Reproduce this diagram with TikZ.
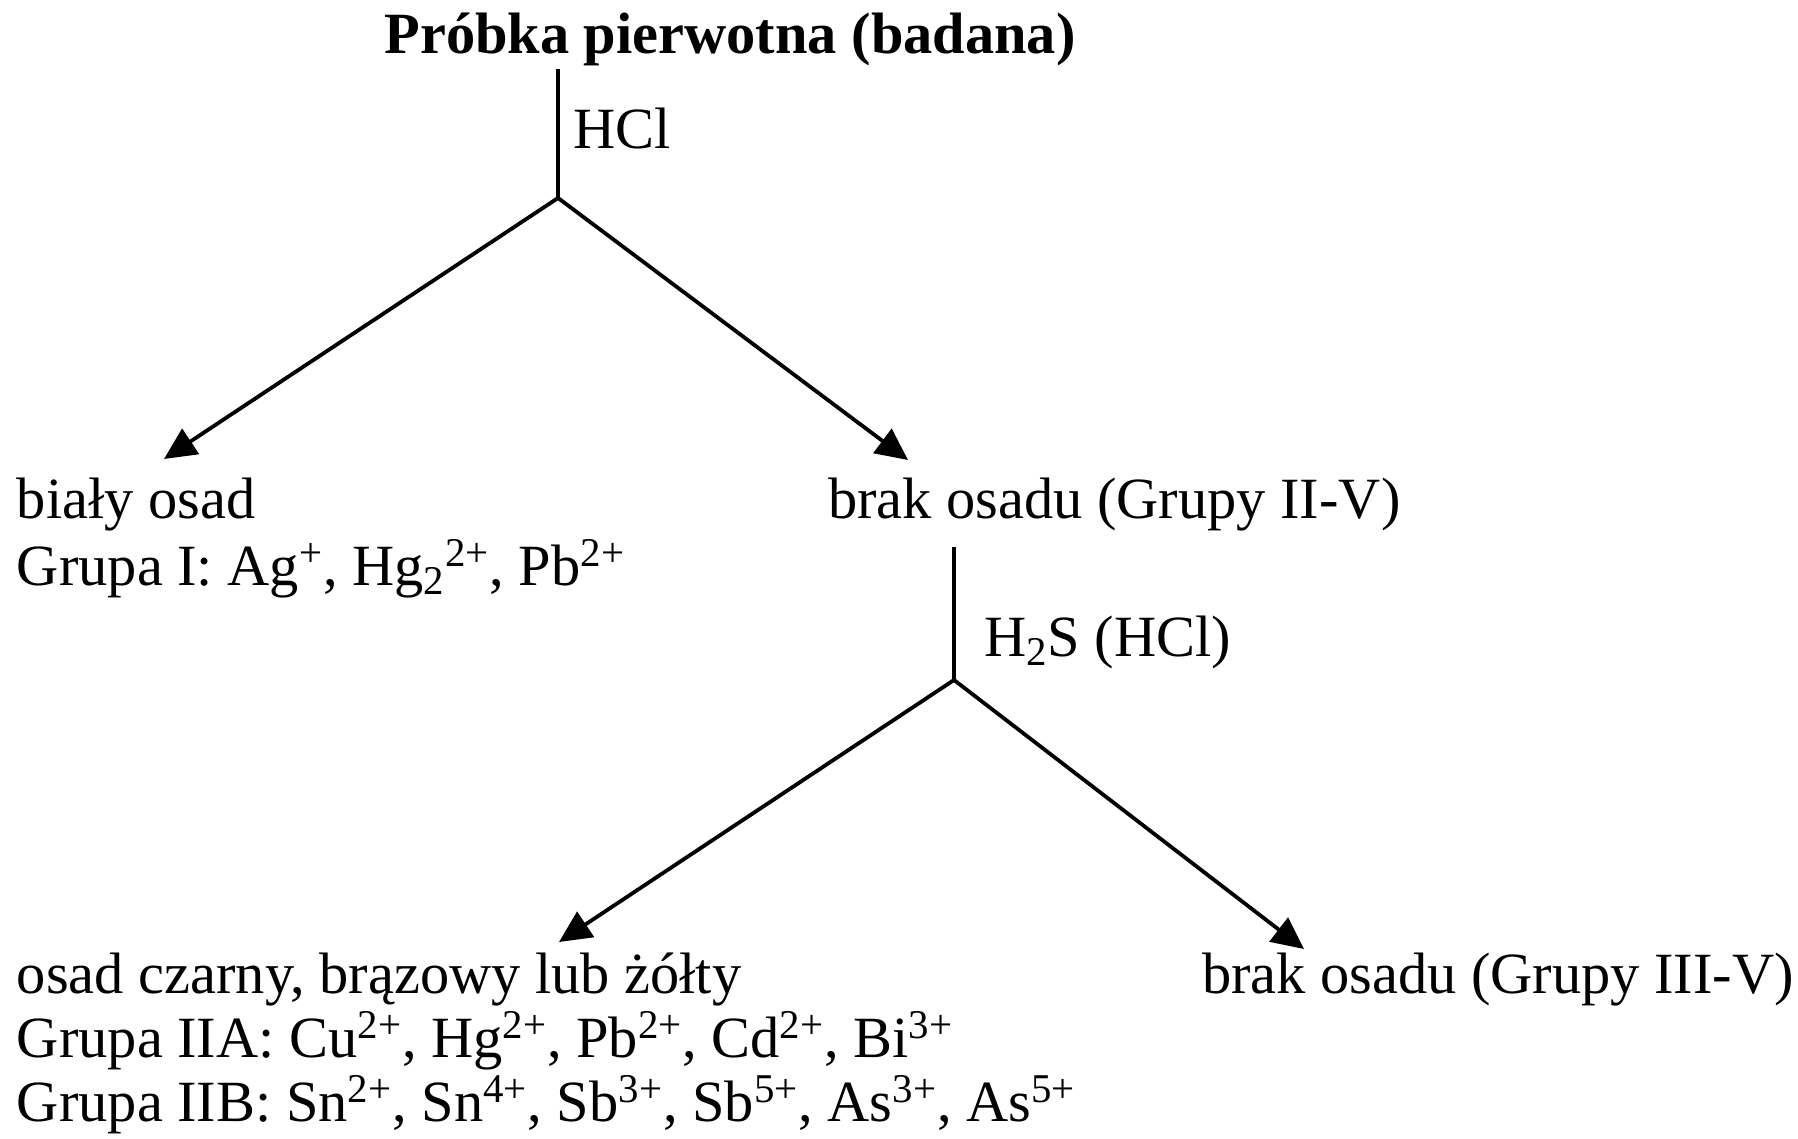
\documentclass[tikz,border=0pt]{standalone}
\usepackage{fontspec}
\setmainfont{Liberation Serif}
\usetikzlibrary{arrows.meta}
\tikzset{
  txt/.style={inner sep=0pt, outer sep=0pt, anchor=base west, font=\fontsize{29.2}{32}\selectfont},
  ttl/.style={inner sep=0pt, outer sep=0pt, anchor=base, font=\fontsize{29.2}{32}\selectfont\bfseries},
  stem/.style={line width=1.6pt},
  branch/.style={line width=1.9pt, -{Triangle[length=16pt,width=15pt]}}
}
\begin{document}
\begin{tikzpicture}[x=0.5pt,y=-0.5pt]
\useasboundingbox (0,0) rectangle (1798,1139);
% texts
\node[ttl] (title) at (730,54) {Próbka pierwotna (badana)};
\node[txt] (hcl) at (573,149) {HCl};
\node[txt] (bialy) at (17,518) {biały osad};
\node[txt] (g1) at (17,585) {Grupa I: Ag\textsuperscript{+}, Hg\textsubscript{2}\textsuperscript{2+}, Pb\textsuperscript{2+}};
\node[txt] (brak2) at (828,518) {brak osadu (Grupy II-V)};
\node[txt] (h2s) at (984,656) {H\textsubscript{2}S (HCl)};
\node[txt] (czarny) at (17,993) {osad czarny, brązowy lub żółty};
\node[txt] (g2a) at (17,1057) {Grupa IIA: Cu\textsuperscript{2+}, Hg\textsuperscript{2+}, Pb\textsuperscript{2+}, Cd\textsuperscript{2+}, Bi\textsuperscript{3+}};
\node[txt] (g2b) at (17,1121) {Grupa IIB: Sn\textsuperscript{2+}, Sn\textsuperscript{4+}, Sb\textsuperscript{3+}, Sb\textsuperscript{5+}, As\textsuperscript{3+}, As\textsuperscript{5+}};
\node[txt] (brak3) at (1202,993) {brak osadu (Grupy III-V)};
% coordinates
\coordinate (top1) at (558,69);
\coordinate (split1) at (558,198);
\coordinate (endL1) at (164,459);
\coordinate (endR1) at (908,460);
\coordinate (top2) at (954,547);
\coordinate (split2) at (954,680);
\coordinate (endL2) at (559,942);
\coordinate (endR2) at (1304,949);
% connectors
\draw[stem] (top1) -- (split1);
\draw[branch] (split1) -- (endL1);
\draw[branch] (split1) -- (endR1);
\draw[stem] (top2) -- (split2);
\draw[branch] (split2) -- (endL2);
\draw[branch] (split2) -- (endR2);
\end{tikzpicture}
\end{document}
